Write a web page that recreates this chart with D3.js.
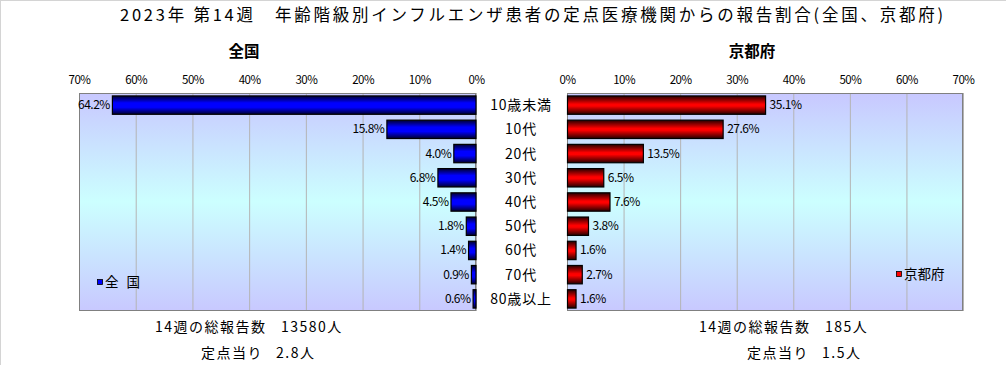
<!DOCTYPE html>
<html><head><meta charset="utf-8">
<script src="https://cdn.jsdelivr.net/npm/d3@7/dist/d3.min.js"></script>
<style>
body{margin:0;background:#fff;}
svg text{font-family:"Noto Sans CJK JP","Noto Sans",sans-serif;fill:#000;}
</style></head><body>
<script>
const categories = ["10歳未満","10代","20代","30代","40代","50代","60代","70代","80歳以上"];
const nationalValues = [64.2,15.8,4.0,6.8,4.5,1.8,1.4,0.9,0.6];
const kyotoValues = [35.1,27.6,13.5,6.5,7.6,3.8,1.6,2.7,1.6];
const tickValues = [0,10,20,30,40,50,60,70];
const titleText = "2023年 第14週　年齢階級別インフルエンザ患者の定点医療機関からの報告割合(全国、京都府)";
const panelTitles = ["全国","京都府"];
const legendLabels = ["全 国","京都府"];
const footerLabels = ["14週の総報告数","定点当り"];
const nationalFooter = ["13580人","2.8人"];
const kyotoFooter = ["185人","1.5人"];

const W=1006,H=365;
const svg=d3.select("body").append("svg").attr("width",W).attr("height",H);
const defs=svg.append("defs");
function vgrad(id,stops){
  const g=defs.append("linearGradient").attr("id",id).attr("x1",0).attr("y1",0).attr("x2",0).attr("y2",1);
  stops.forEach(s=>g.append("stop").attr("offset",s[0]).attr("stop-color",s[1]));
}
vgrad("bg",[[0,"#c8c8ff"],[0.5,"#ccffff"],[1,"#c8c8ff"]]);
vgrad("blue",[[0,"#000030"],[0.38,"#0000ff"],[0.62,"#0000ff"],[1,"#000030"]]);
vgrad("red",[[0,"#250000"],[0.45,"#ff0000"],[0.55,"#ff0000"],[1,"#250000"]]);

svg.append("line").attr("x1",0).attr("x2",W).attr("y1",0.5).attr("y2",0.5).attr("stroke","#d4d4d4");
svg.append("line").attr("x1",0.5).attr("x2",0.5).attr("y1",0).attr("y2",H).attr("stroke","#d4d4d4");

svg.append("text").attr("x",120).attr("y",21).attr("font-size",16.5)
  .attr("textLength",823).attr("lengthAdjust","spacing").text(titleText);

const plotTop=93,plotBottom=311;
const y=d3.scaleBand().domain(categories).range([plotTop,plotBottom]).paddingInner(0.2).paddingOuter(0.1);
const xL=d3.scaleLinear().domain([0,70]).range([476,79]);
const xR=d3.scaleLinear().domain([0,70]).range([567,963]);

function panel(x,vals,grad,side,title,titleX){
  const [x0,x1]=[Math.min(...x.range()),Math.max(...x.range())];
  svg.append("rect").attr("x",x0).attr("y",plotTop).attr("width",x1-x0).attr("height",plotBottom-plotTop).attr("fill","url(#bg)");
  const g=svg.append("g").attr("transform",`translate(0,${plotBottom})`)
    .call(d3.axisBottom(x).tickValues(tickValues).tickSize(-(plotBottom-plotTop)).tickFormat(""));
  g.select(".domain").remove();
  g.selectAll("line").attr("stroke","#b4b4b4");
  svg.append("rect").attr("x",x0+0.5).attr("y",plotTop+0.5).attr("width",x1-x0-1).attr("height",plotBottom-plotTop-1)
    .attr("fill","none").attr("stroke","#808080");
  const a=svg.append("g").attr("transform",`translate(0,${plotTop})`)
    .call(d3.axisTop(x).tickValues(tickValues).tickSize(0).tickPadding(9).tickFormat(d=>d+"%"));
  a.select(".domain").remove();
  a.selectAll("text").attr("font-size",11.5).attr("font-family","'Noto Sans CJK JP',sans-serif").attr("letter-spacing","-0.5px");
  svg.append("g").selectAll("rect").data(vals).join("rect")
    .attr("x",d=>Math.min(x(0),x(d))+0.5).attr("y",(d,i)=>y(categories[i])+0.5)
    .attr("width",d=>Math.abs(x(d)-x(0))-0.5).attr("height",y.bandwidth()-1)
    .attr("fill",`url(#${grad})`).attr("stroke","#000").attr("stroke-width",1.2);
  svg.append("g").selectAll("text").data(vals).join("text")
    .attr("x",d=>side<0? x(d)-2 : x(d)+4)
    .attr("y",(d,i)=>y(categories[i])+y.bandwidth()/2+4)
    .attr("text-anchor",side<0?"end":"start").attr("font-size",12).attr("letter-spacing","-0.5px")
    .text(d=>d.toFixed(1)+"%");
  svg.append("text").attr("x",titleX).attr("y",57).attr("text-anchor","middle").attr("font-size",15.5).attr("font-weight","bold").text(title);
}
panel(xL,nationalValues,"blue",-1,panelTitles[0],244);
panel(xR,kyotoValues,"red",1,panelTitles[1],752);

svg.append("g").selectAll("text").data(categories).join("text")
  .attr("x",521).attr("y",d=>y(d)+y.bandwidth()/2+5).attr("text-anchor","middle").attr("font-size",14).attr("letter-spacing","0.8px").text(d=>d);

function legend(x,yc,color,label,ls){
  svg.append("rect").attr("x",x+0.5).attr("y",yc-2.5).attr("width",5).attr("height",5).attr("fill",color).attr("stroke","#000").attr("stroke-width",0.8);
  svg.append("text").attr("x",x+8).attr("y",yc+5).attr("font-size",13.5).attr("letter-spacing",ls).attr("xml:space","preserve").text(label);
}
legend(97,282,"#0000ff",legendLabels[0],"2.5px");
legend(896,274,"#ff0000",legendLabels[1],"0px");

function footer(pos,vals){
  const ys=[332,358];
  ys.forEach((yy,i)=>{
    svg.append("text").attr("x",pos[i][0]).attr("y",yy).attr("font-size",14).attr("letter-spacing","1.5px").text(footerLabels[i]);
    svg.append("text").attr("x",pos[i][1]).attr("y",yy).attr("font-size",14).attr("letter-spacing","1.5px").text(vals[i]);
  });
}
footer([[155,281],[201,276]],nationalFooter);
footer([[699,825],[747,822]],kyotoFooter);
</script></body></html>
